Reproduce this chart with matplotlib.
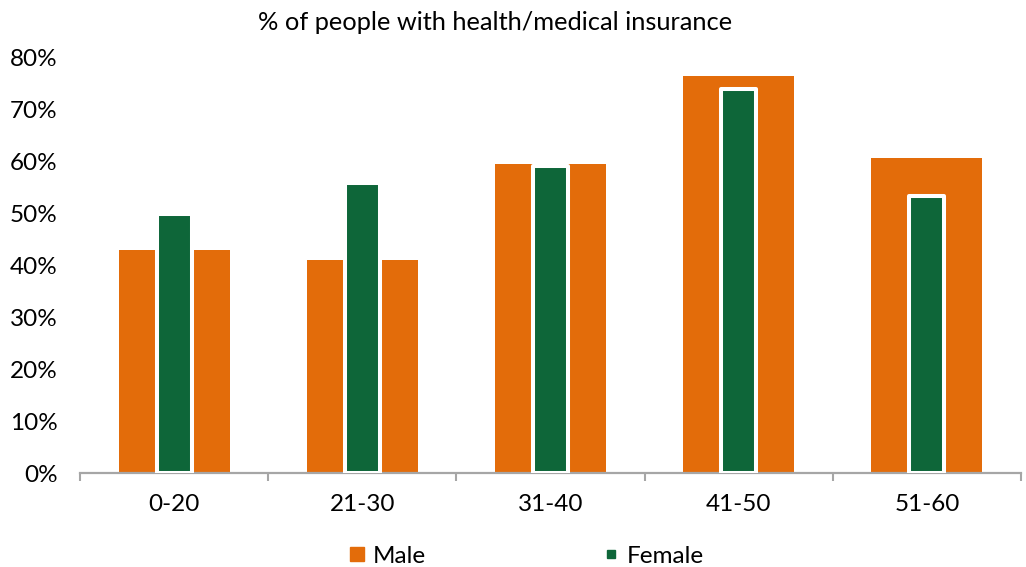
import matplotlib
matplotlib.use("Agg")
import matplotlib.pyplot as plt
from matplotlib.lines import Line2D
from matplotlib.ticker import PercentFormatter, FixedLocator
import numpy as np

categories = ["0-20", "21-30", "31-40", "41-50", "51-60"]
male = [43.0, 41.0, 59.5, 76.5, 60.8]
female = [50.0, 56.0, 59.2, 74.0, 53.4]
yticks = [0, 10, 20, 30, 40, 50, 60, 70, 80]
title = "% of people with health/medical insurance"

ORANGE = "#E36C0A"
GREEN = "#0E6639"
AXIS = "#A6A6A6"
FS = 17.5

plt.rcParams['font.family'] = ['Lato', 'DejaVu Sans']

fig = plt.figure(figsize=(10.26, 5.67), dpi=100)
ax = fig.add_axes([80/1026, 1 - 473/567, (1021-80)/1026, (473-58)/567])

x = np.arange(len(categories))
ax.bar(x, male, width=0.59, color=ORANGE, zorder=2, label="Male")
ax.bar(x, female, width=0.186, color=GREEN, edgecolor="white", linewidth=2.9,
       joinstyle="round", zorder=3, label="Female")

ax.set_xlim(-0.5, len(categories) - 0.5)
ax.set_ylim(0, 80)
ax.set_yticks(yticks)
ax.yaxis.set_major_formatter(PercentFormatter(decimals=0))
ax.tick_params(axis='y', length=0, pad=16, labelsize=FS, labelcolor="#000000")

ax.set_xticks(x)
ax.set_xticklabels(categories)
ax.tick_params(axis='x', which='major', length=0, pad=15, labelsize=FS, labelcolor="#000000")
ax.xaxis.set_minor_locator(FixedLocator(np.arange(-0.5, len(categories), 1.0)))
ax.tick_params(axis='x', which='minor', length=5.5, width=1.5, color=AXIS, direction='out')

for s in ["top", "right", "left"]:
    ax.spines[s].set_visible(False)
ax.spines["bottom"].set_color(AXIS)
ax.spines["bottom"].set_linewidth(1.6)

fig.text(495.5/1026, 1 - 22/567, title, ha="center", va="center", fontsize=18.3, color="#000000")

handles = [
    Line2D([], [], linestyle="none", marker="s", markersize=9.4, color=ORANGE),
    Line2D([], [], linestyle="none", marker="s", markersize=5.8, color=GREEN),
]
fig.legend(handles, ["Male", "Female"], loc="center", bbox_to_anchor=(527/1026, 11/567),
           ncol=2, frameon=False, fontsize=FS, handlelength=0.6, handletextpad=0.35,
           columnspacing=7.3, borderpad=0, borderaxespad=0)

fig.savefig("out.png", dpi=100)
